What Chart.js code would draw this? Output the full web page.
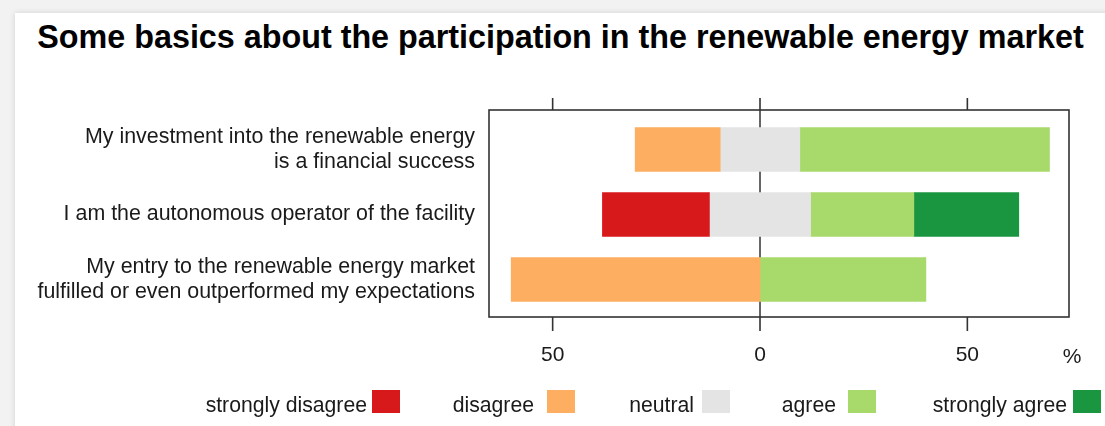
<!DOCTYPE html>
<html>
<head>
<meta charset="utf-8">
<script src="https://cdn.jsdelivr.net/npm/chart.js@4.4.1/dist/chart.umd.min.js"></script>
<style>
  html, body { margin: 0; padding: 0; }
  body { width: 1105px; height: 426px; position: relative; overflow: hidden; background: #f2f2f2;
         font-family: "Liberation Sans", Arial, sans-serif; }
  #sheet { position: absolute; left: 15px; top: 13px; width: 1120px; height: 440px; background: #fff;
           box-shadow: 0 0 6px rgba(0,0,0,0.13); }
  #c { position: absolute; left: 0; top: 0; }
  #title { position: absolute; left: 0; width: 1121px; top: 21px; text-align: center; font-weight: bold;
           font-size: 32.3px; line-height: 32px; color: #000; white-space: nowrap; }
  .lt { position: absolute; top: 394px; font-size: 21.2px; line-height: 21px; color: #1a1a1a; white-space: nowrap; text-align: right; }
  .lb { position: absolute; top: 390px; width: 28px; height: 23px; }
  #pct { position: absolute; left: 1052px; width: 40px; top: 345px; text-align: center; font-size: 21px; line-height: 21px; color: #1a1a1a; }
</style>
</head>
<body>
<div id="sheet"></div>
<div id="title">Some basics about the participation in the renewable energy market</div>
<canvas id="c" width="1105" height="426"></canvas>
<div id="pct">%</div>
<div id="legend"></div>
<script>
// ---- data ----
const categories = [
  ['My investment into the renewable energy', 'is a financial success'],
  'I am the autonomous operator of the facility',
  ['My entry to the renewable energy market', 'fulfilled or even outperformed my expectations']
];
const stronglyDisagree = [0, 25.8, 0];
const disagree = [20.5, 0, 60];
const neutral = [19.2, 24.4, 0];
const agree = [60.2, 24.9, 40];
const stronglyAgree = [0, 25.3, 0];
const tickValues = [-50, 0, 50];
const tickLabels = ['50', '0', '50'];
const legendLabels = ['strongly disagree', 'disagree', 'neutral', 'agree', 'strongly agree'];

// ---- styles ----
const colors = { sd: '#d7191c', d: '#fdae61', n: '#e4e4e4', a: '#a8d96b', sa: '#1a9641' };
const FONT = '"Liberation Sans", Arial, sans-serif';

// diverging layout: neutral centred on zero, others extend outwards
const span = (lo, hi) => (hi - lo === 0 ? null : [lo, hi]);
const nHalf = neutral.map(v => v / 2);
const neutralBars = nHalf.map(h => span(-h, h));
const disagreeBars = nHalf.map((h, i) => span(-h - disagree[i], -h));
const sdBars = nHalf.map((h, i) => span(-h - disagree[i] - stronglyDisagree[i], -h - disagree[i]));
const agreeBars = nHalf.map((h, i) => span(h, h + agree[i]));
const saBars = nHalf.map((h, i) => span(h + agree[i], h + agree[i] + stronglyAgree[i]));

const datasets = [
  { label: 'strongly disagree', data: sdBars, backgroundColor: colors.sd },
  { label: 'disagree', data: disagreeBars, backgroundColor: colors.d },
  { label: 'neutral', data: neutralBars, backgroundColor: colors.n },
  { label: 'agree', data: agreeBars, backgroundColor: colors.a },
  { label: 'strongly agree', data: saBars, backgroundColor: colors.sa }
].map(d => Object.assign(d, { borderWidth: 0, barThickness: 44, grouped: false }));

const FRAME_TOP = 7, FRAME_BOTTOM = 5;

const framePlugin = {
  id: 'frame',
  beforeDatasetsDraw(chart) {
    const { ctx, chartArea: a, scales: { x } } = chart;
    const top = a.top - FRAME_TOP, bottom = a.bottom + FRAME_BOTTOM;
    const x0 = x.getPixelForValue(0);
    ctx.save();
    ctx.strokeStyle = '#333';
    ctx.lineWidth = 1.5;
    ctx.beginPath();
    ctx.moveTo(x0, top); ctx.lineTo(x0, bottom);
    ctx.stroke();
    ctx.restore();
  },
  afterDatasetsDraw(chart) {
    const { ctx, chartArea: a, scales: { x } } = chart;
    const top = a.top - FRAME_TOP, bottom = a.bottom + FRAME_BOTTOM;
    ctx.save();
    ctx.strokeStyle = '#333';
    ctx.lineWidth = 1.6;
    ctx.strokeRect(a.left, top, a.right - a.left, bottom - top);
    ctx.beginPath();
    x.ticks.forEach(t => {
      const px = x.getPixelForValue(t.value);
      ctx.moveTo(px, top); ctx.lineTo(px, top - 12);
      ctx.moveTo(px, bottom); ctx.lineTo(px, bottom + 14);
    });
    ctx.stroke();
    ctx.restore();
  }
};

new Chart(document.getElementById('c'), {
  type: 'bar',
  data: { labels: categories, datasets },
  options: {
    indexAxis: 'y',
    responsive: false,
    animation: false,
    devicePixelRatio: 1,
    layout: { padding: { top: 117, right: 36, left: 0, bottom: 0 } },
    plugins: { legend: { display: false }, tooltip: { enabled: false }, title: { display: false } },
    scales: {
      x: {
        min: -65.35, max: 74.51,
        afterFit: s => { s.height = 114; },
        afterBuildTicks: s => { s.ticks = tickValues.map(v => ({ value: v })); },
        grid: { display: false, drawTicks: false },
        border: { display: false },
        ticks: {
          padding: 31,
          color: '#1a1a1a',
          font: { family: FONT, size: 21 },
          callback: (v, i) => tickLabels[i]
        }
      },
      y: {
        afterFit: s => { s.width = 489; },
        grid: { display: false, drawTicks: false },
        border: { display: false },
        ticks: {
          padding: 14,
          color: '#1a1a1a',
          font: { family: FONT, size: 21.4, lineHeight: 1.15 }
        }
      }
    }
  },
  plugins: [framePlugin]
});

// ---- legend (HTML) ----
const legendColors = [colors.sd, colors.d, colors.n, colors.a, colors.sa];
const textRight = [367, 534, 694, 836, 1067];
const boxLeft = [372, 547, 702, 848, 1073];
const lg = document.getElementById('legend');
legendLabels.forEach((lab, i) => {
  const t = document.createElement('div');
  t.className = 'lt';
  t.style.right = (1105 - textRight[i]) + 'px';
  t.textContent = lab;
  lg.appendChild(t);
  const b = document.createElement('div');
  b.className = 'lb';
  b.style.left = boxLeft[i] + 'px';
  b.style.background = legendColors[i];
  lg.appendChild(b);
});
</script>
</body>
</html>
